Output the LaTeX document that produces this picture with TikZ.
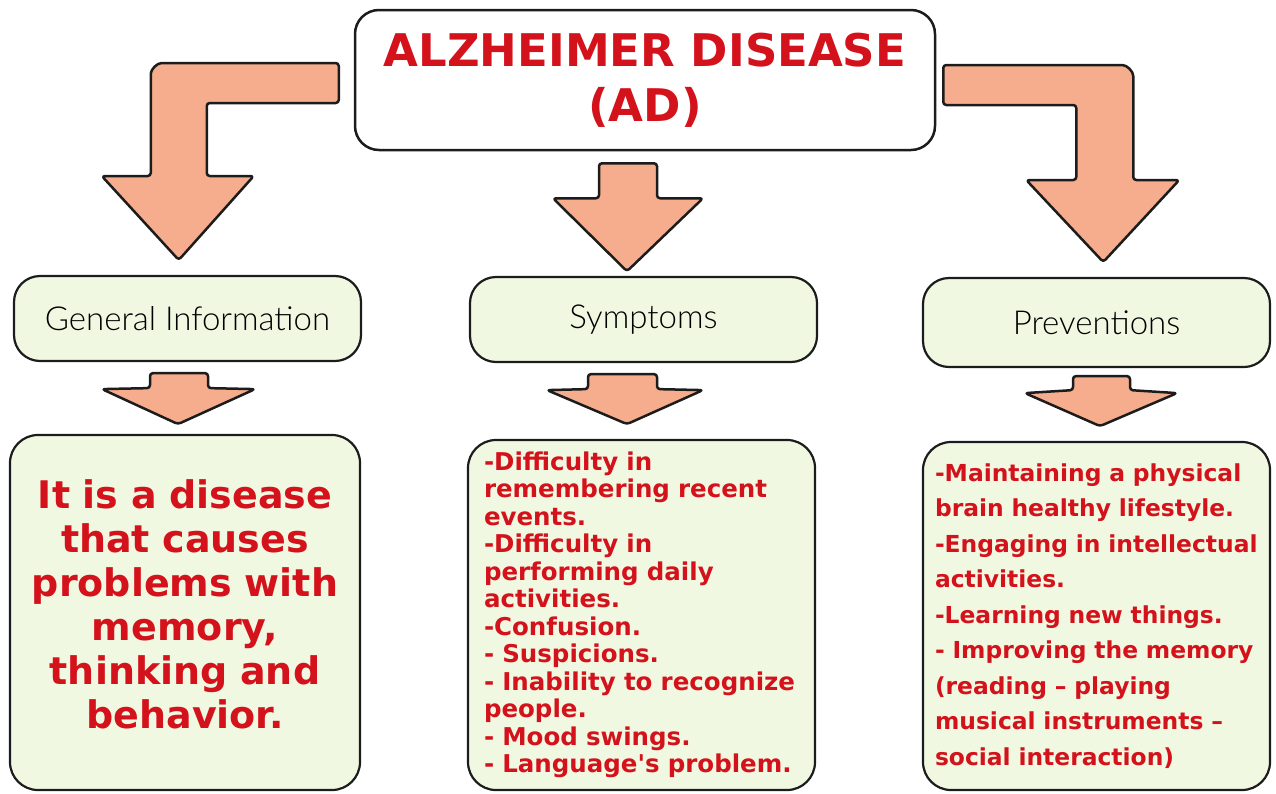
\documentclass[tikz,border=0pt]{standalone}
\usepackage{fontspec}
\setmainfont{Lato Light}
\newfontfamily\redfont{DejaVu Sans}
\usepackage{tikz}
\usetikzlibrary{positioning}
\definecolor{adred}{HTML}{D3121B}
\definecolor{arrowfill}{HTML}{F5AD8D}
\definecolor{boxgreen}{HTML}{F1F8E2}
\definecolor{lineblk}{HTML}{1C1C1C}

\begin{document}
\begin{tikzpicture}[x=1pt,y=-1pt,
  titlebox/.style={draw=lineblk,line width=2.5pt,rounded corners=24pt,fill=white,
    minimum width=580pt,minimum height=140pt,align=center,text=adred,
    font=\redfont\bfseries\fontsize{45}{55}\selectfont},
  headbox/.style={draw=lineblk,line width=2.2pt,rounded corners=26pt,fill=boxgreen,
    minimum width=347pt,minimum height=85pt,font=\fontsize{33}{36}\selectfont},
  textbox/.style={draw=lineblk,line width=2.2pt,rounded corners=28pt,fill=boxgreen,
    minimum width=347pt,minimum height=350pt,inner sep=0pt,text=adred},
  blockarrow/.style={draw=lineblk,line width=2.5pt,fill=arrowfill,rounded corners=3pt,line join=round}]
\useasboundingbox (0,0) rectangle (1276,793);

% top box
\node[titlebox] (title) at (645,80) {ALZHEIMER DISEASE\\(AD)};

% second row
\node[headbox] (gen) at (187.5,318.5) {General Information};
\node[headbox] (sym) at (643.5,319.5) {Symptoms};
\node[headbox,minimum height=89pt] (prev) at (1096.5,322.5) {Preventions};

% third row
\node[textbox,minimum width=350pt,minimum height=355pt,text width=340pt,align=center,
  font=\redfont\bfseries\fontsize{38}{44}\selectfont] (geninfo) at (185,612.5)
  {It is a disease\\that causes\\problems with\\memory,\\thinking and\\behavior.\\[-28pt]\mbox{}};
\node[textbox,text width=315pt,align=left,
  font=\redfont\bfseries\fontsize{24.5}{27.5}\selectfont] (symlist) at (641.5,615)
  {-Difficulty in\\remembering recent\\events.\\-Difficulty in\\performing daily\\activities.\\-Confusion.\\- Suspicions.\\- Inability to recognize\\people.\\- Mood swings.\\- Language's problem.};
\node[textbox,minimum height=348pt,text width=323pt,align=left,
  font=\redfont\bfseries\fontsize{23.4}{35.5}\selectfont] (prevlist) at (1096.5,616)
  {-Maintaining a physical\\brain healthy lifestyle.\\-Engaging in intellectual\\activities.\\-Learning new things.\\- Improving the memory\\(reading – playing\\musical instruments –\\social interaction)};

% big arrows from the title
\draw[blockarrow,shift={(title.west)}] (-15,23) -- (-15,-17) -- (-189,-17)
  arc[start angle=-90,end angle=-180,radius=14] -- (-203,96) -- (-252,96) -- (-175,180)
  -- (-100,96) -- (-147,96) -- (-147,23) -- cycle;
\draw[blockarrow,shift={(title.south)}] (-46,12) -- (12,12) -- (12,47) -- (58,47)
  -- (-18,120) -- (-92,47) -- (-46,47) -- cycle;
\draw[blockarrow,shift={(title.east)}] (7,25) -- (7,-15) -- (183,-15)
  arc[start angle=-90,end angle=0,radius=14] -- (197,100) -- (243,100) -- (167,182)
  -- (90,100) -- (140,100) -- (140,25) -- cycle;

% small arrows
\draw[blockarrow,shift={(gen.south)}] (-37.5,11) -- (20.5,11) -- (20.5,26) -- (67.5,27)
  -- (-9.5,62) -- (-85.5,27) -- (-37.5,26) -- cycle;
\draw[blockarrow,shift={(sym.south)}] (-55.5,11) -- (13.5,11) -- (13.5,26) -- (59.5,27)
  -- (-16.5,61) -- (-96.5,27) -- (-55.5,26) -- cycle;
\draw[blockarrow,shift={(prev.south)}] (-23.5,8) -- (33.5,8) -- (33.5,22) -- (80.5,25)
  -- (3.5,58) -- (-71.5,25) -- (-23.5,22) -- cycle;
\end{tikzpicture}
\end{document}
